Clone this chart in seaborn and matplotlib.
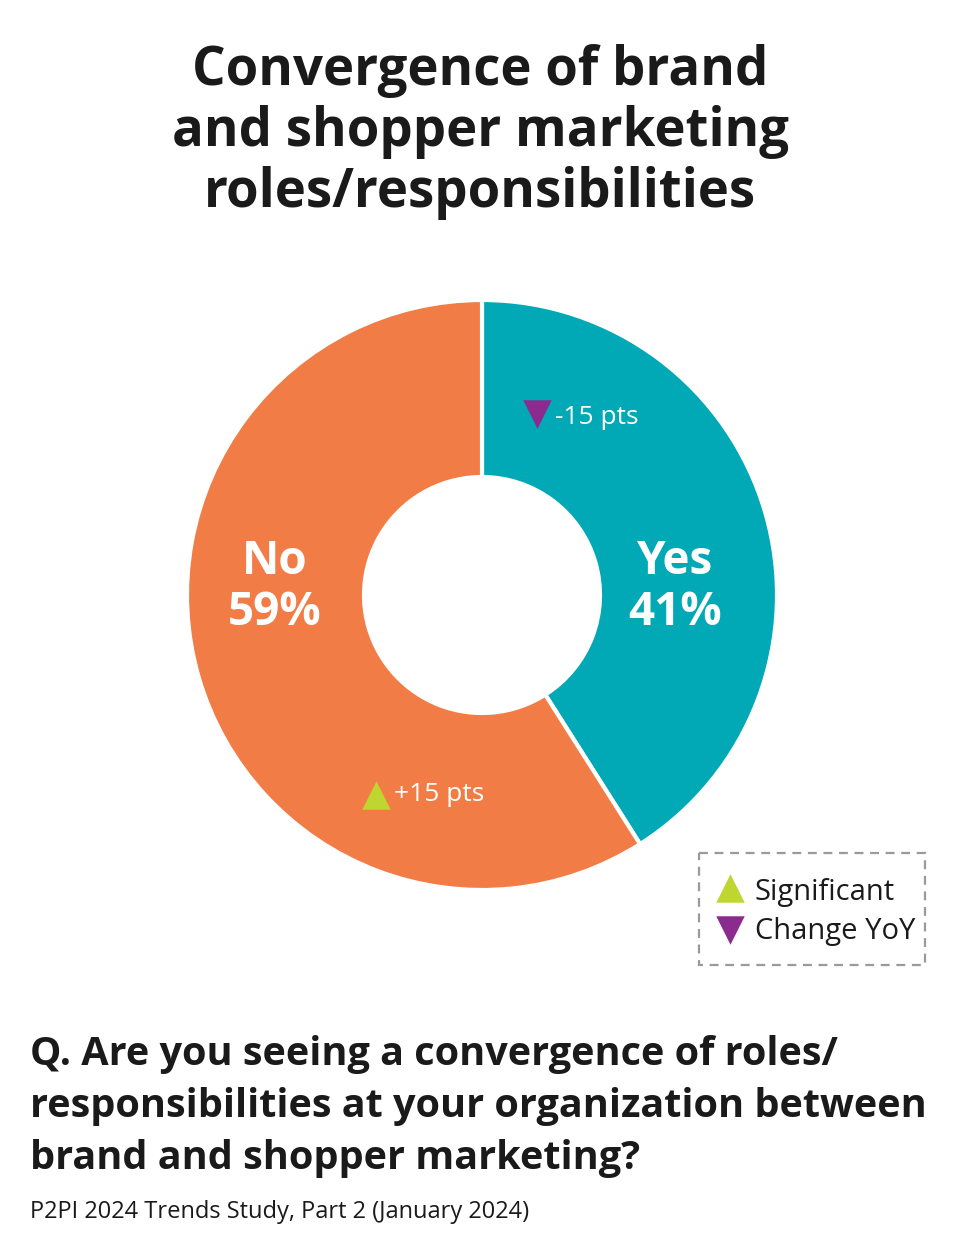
import matplotlib
matplotlib.use("Agg")
import matplotlib.pyplot as plt
import seaborn as sns
from matplotlib.patches import Rectangle

sns.set_theme(style="white")
plt.rcParams['font.family'] = ['Open Sans', 'DejaVu Sans']

# Data
categories = ["Yes", "No"]
shares = [41, 59]
changes = ["-15 pts", "+15 pts"]
title_lines = ["Convergence of brand", "and shopper marketing", "roles/responsibilities"]
question_lines = ["Q. Are you seeing a convergence of roles/",
                  "responsibilities at your organization between",
                  "brand and shopper marketing?"]
source = "P2PI 2024 Trends Study, Part 2 (January 2024)"
legend_labels = ["Significant", "Change YoY"]

teal = "#00A9B5"
orange = "#F27C45"
green = "#BFD630"
purple = "#8B2A8F"
dark = "#1a1a1a"

W, H = 960, 1249
fig = plt.figure(figsize=(W / 100, H / 100), dpi=100)
fig.patch.set_facecolor("white")

# Donut axes
cx, cy, R = 482, 595, 295
pax = fig.add_axes([(cx - R) / W, (H - cy - R) / H, 2 * R / W, 2 * R / H])
pax.pie(shares, colors=[teal, orange], startangle=90, counterclock=False,
        radius=1.0, wedgeprops=dict(width=0.6, edgecolor="white", linewidth=3))
pax.set_xlim(-1, 1)
pax.set_ylim(-1, 1)
pax.set_aspect("equal")
pax.axis("off")

# Overlay axes in pixel coordinates
ax = fig.add_axes([0, 0, 1, 1], facecolor="none")
ax.set_xlim(0, W)
ax.set_ylim(H, 0)
ax.axis("off")

for i, line in enumerate(title_lines):
    ax.text(480, 71 + i * 61, line, ha="center", va="center", fontsize=38,
            fontweight="bold", color=dark)

# Slice labels
for x, lab, val in [(675, categories[0], shares[0]), (275, categories[1], shares[1])]:
    ax.text(x, 561, lab, ha="center", va="center", fontsize=33,
            fontweight="bold", color="white")
    ax.text(x, 612, f"{val}%", ha="center", va="center", fontsize=33,
            fontweight="bold", color="white")

# Change annotations
ax.scatter([537], [414], marker="v", s=420, color=purple, linewidths=0)
ax.text(555, 417, changes[0], ha="left", va="center", fontsize=19, color="white")
ax.scatter([376], [795], marker="^", s=420, color=green, linewidths=0)
ax.text(394, 794, changes[1], ha="left", va="center", fontsize=19, color="white")

# Legend box
ax.add_patch(Rectangle((699, 853), 226, 112, fill=False, edgecolor="#9a9a9a",
                       linestyle=(0, (4, 3)), linewidth=1.6))
ax.scatter([730], [888], marker="^", s=420, color=green, linewidths=0)
ax.scatter([730], [930], marker="v", s=420, color=purple, linewidths=0)
ax.text(755, 892, legend_labels[0], ha="left", va="center", fontsize=21, color=dark)
ax.text(755, 931, legend_labels[1], ha="left", va="center", fontsize=21, color=dark)

# Question
for i, line in enumerate(question_lines):
    ax.text(30, 1055 + i * 52, line, ha="left", va="center", fontsize=28.5,
            fontweight="bold", color=dark)

ax.text(30, 1212, source, ha="left", va="center", fontsize=17, color=dark)

fig.savefig("out.png", dpi=100, facecolor="white")
